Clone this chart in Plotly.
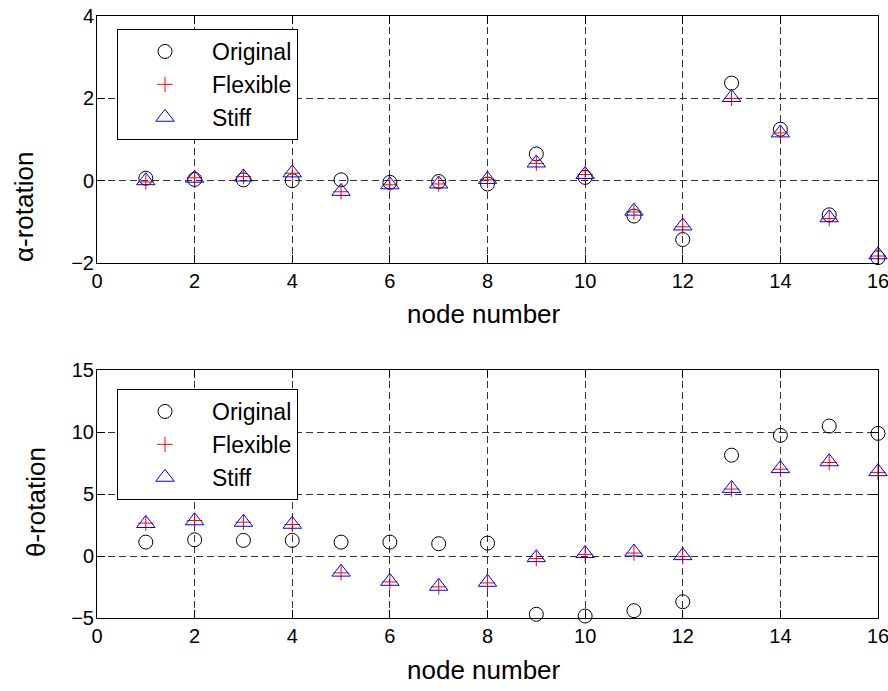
import plotly.graph_objects as go

# Node numbers along the structure
nodes = list(range(1, 17))

# Alpha rotation per node
alpha_original = [0.06, 0.03, 0.02, 0.0, 0.02, -0.04, -0.02, -0.08,
                  0.65, 0.08, -0.86, -1.43, 2.37, 1.25, -0.83, -1.87]
alpha_flexible = [-0.03, 0.07, 0.10, 0.18, -0.27, -0.10, -0.08, 0.02,
                  0.42, 0.15, -0.76, -1.12, 2.00, 1.16, -0.92, -1.83]
alpha_stiff = [0.0, 0.06, 0.09, 0.19, -0.26, -0.10, -0.08, 0.03,
               0.43, 0.15, -0.74, -1.10, 2.02, 1.16, -0.90, -1.80]

# Theta rotation per node
theta_original = [1.12, 1.31, 1.26, 1.26, 1.12, 1.12, 0.99, 1.04,
                  -4.70, -4.84, -4.41, -3.69, 8.13, 9.73, 10.48, 9.89]
theta_flexible = [2.65, 2.86, 2.73, 2.54, -1.36, -2.09, -2.49, -2.17,
                  -0.21, 0.13, 0.24, -0.03, 5.40, 7.00, 7.54, 6.74]
theta_stiff = [2.62, 2.84, 2.72, 2.56, -1.30, -2.04, -2.44, -2.12,
               -0.13, 0.20, 0.32, 0.03, 5.45, 7.05, 7.60, 6.80]

x_ticks = list(range(0, 17, 2))
alpha_ticks = [-2, 0, 2, 4]
theta_ticks = [-5, 0, 5, 10, 15]

W, H = 888, 691
ML, MR, MT, MB = 97, 10, 16, 73
PW = W - ML - MR
PH = H - MT - MB
FONT = "Liberation Sans, Arial, sans-serif"


def px_x(px):
    return (px - ML) / PW


def px_y(py):
    return (H - MB - py) / PH


styles = [
    ("Original", dict(symbol="circle-open", size=14, color="black",
                      line=dict(color="black", width=1))),
    ("Flexible", dict(symbol="cross-thin-open", size=11, color="red",
                      line=dict(color="red", width=1))),
    ("Stiff", dict(symbol="triangle-up-open", size=16, color="blue",
                   line=dict(color="blue", width=1))),
]

fig = go.Figure()

for panel, (series, xa, ya, lg) in enumerate([
    ((alpha_original, alpha_flexible, alpha_stiff), "x", "y", "legend"),
    ((theta_original, theta_flexible, theta_stiff), "x2", "y2", "legend2"),
]):
    for (name, marker), vals in zip(styles, series):
        fig.add_trace(go.Scatter(
            x=nodes, y=vals, mode="markers", name=name, marker=marker,
            xaxis=xa, yaxis=ya, legend=lg, cliponaxis=False,
            legendgroup=f"{name}{panel}",
        ))

axis_common = dict(
    showline=True, linecolor="black", linewidth=1, mirror="ticks",
    ticks="inside", ticklen=8, tickwidth=1, tickcolor="black",
    showgrid=True, gridcolor="#333333", gridwidth=1, griddash="7px,4px",
    zeroline=False, tickfont=dict(family=FONT, size=20, color="black"),
    ticklabeloverflow="allow", automargin=False,
)
x_common = dict(axis_common, ticklabelstandoff=0)
y_common = dict(axis_common, ticklabelstandoff=-2)

top_dom = [px_y(263), 1.0]
bot_dom = [0.0, px_y(370)]

legend_common = dict(
    bgcolor="white", bordercolor="black", borderwidth=1,
    font=dict(family=FONT, size=23, color="black"),
    xanchor="left", yanchor="top", itemwidth=84, tracegroupgap=0,
    itemclick=False,
)

fig.update_layout(
    template="none",
    width=W, height=H, margin=dict(l=ML, r=MR, t=MT, b=MB, autoexpand=False),
    paper_bgcolor="white", plot_bgcolor="white",
    font=dict(family=FONT, color="black"),
    xaxis=dict(x_common, range=[0, 16], tickvals=x_ticks,
               domain=[0, 1], anchor="y"),
    yaxis=dict(y_common, range=[-2, 4], tickvals=alpha_ticks,
               domain=top_dom, anchor="x"),
    xaxis2=dict(x_common, range=[0, 16], tickvals=x_ticks,
                domain=[0, 1], anchor="y2"),
    yaxis2=dict(y_common, range=[-5, 15], tickvals=theta_ticks,
                domain=bot_dom, anchor="x2"),
    legend=dict(legend_common, x=px_x(117), y=px_y(29)),
    legend2=dict(legend_common, x=px_x(117), y=px_y(389)),
    showlegend=True,
)

title_font = dict(family=FONT, size=26, color="black")
annotations = [
    dict(text="node number", x=px_x(484), y=px_y(314)),
    dict(text="node number", x=px_x(484), y=px_y(670)),
    dict(text="α-rotation", x=px_x(24), y=px_y(207), textangle=-90),
    dict(text="θ-rotation", x=px_x(36), y=px_y(502), textangle=-90),
]
for a in annotations:
    fig.add_annotation(xref="paper", yref="paper", showarrow=False,
                       xanchor="center", yanchor="middle",
                       font=title_font, **a)

fig.write_html("out.html")
